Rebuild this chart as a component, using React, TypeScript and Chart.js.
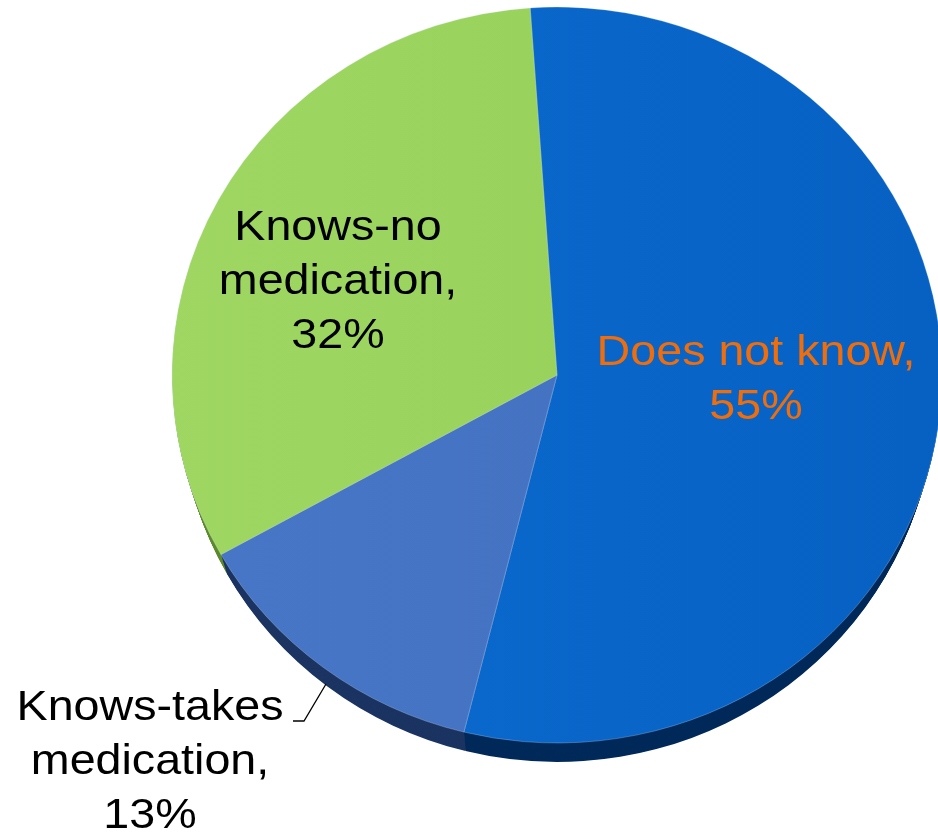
import React, { useEffect, useRef } from "react";
import { Chart, registerables } from "chart.js";

Chart.register(...registerables);

// ---- data ----
const categories = ["Does not know", "Knows-takes medication", "Knows-no medication"];
const values = [55, 13, 32];
const labelLines = [
  ["Does not know,", "55%"],
  ["Knows-takes", "medication,", "13%"],
  ["Knows-no", "medication,", "32%"],
];

// ---- styles ----
const topColors = [
  ["#0d6cd1", "#0660c2"],
  ["#4977c7", "#416fbe"],
  ["#9fd762", "#92ce56"],
];
const sideColors = ["#012a5a", "#1b3462", "#5d8a2d"];
const labelColors = ["#ef6d0b", "#000000", "#000000"];

// ---- layout ----
const SCREEN = { cx: 557, cy: 375, rx: 385, ry: 368, depth: 20, shrinkX: 7, shrinkY: 1 };
const LABEL_POS = [
  { x: 756, y: 365 },
  { x: 150, y: 720 },
  { x: 338, y: 240 },
];
const FONT_SIZE = 42;
const LINE_H = 54;
const TEXT_SX = 1.11;

function applyTransform(ctx: CanvasRenderingContext2D, arc: any, dy: number, rx: number, ry: number) {
  ctx.translate(SCREEN.cx, SCREEN.cy + dy);
  ctx.scale(rx / arc.outerRadius, ry / arc.outerRadius);
  ctx.translate(-arc.x, -arc.y);
}

const pie3d = {
  id: "pie3d",
  beforeDatasetsDraw(chart: any) {
    const ctx: CanvasRenderingContext2D = chart.ctx;
    const arcs = chart.getDatasetMeta(0).data;
    const a0 = arcs[0];
    for (let d = SCREEN.depth; d >= 1; d -= 1) {
      const t = d / SCREEN.depth;
      ctx.save();
      applyTransform(ctx, a0, d, SCREEN.rx - SCREEN.shrinkX * t, SCREEN.ry - SCREEN.shrinkY * t);
      arcs.forEach((arc: any, i: number) => {
        ctx.beginPath();
        ctx.moveTo(arc.x, arc.y);
        ctx.arc(arc.x, arc.y, arc.outerRadius, arc.startAngle, arc.endAngle);
        ctx.closePath();
        ctx.fillStyle = sideColors[i];
        ctx.fill();
      });
      ctx.restore();
    }
    ctx.save();
    applyTransform(ctx, a0, 0, SCREEN.rx, SCREEN.ry);
  },
  afterDatasetsDraw(chart: any) {
    chart.ctx.restore();
  },
  afterDraw(chart: any) {
    const ctx: CanvasRenderingContext2D = chart.ctx;
    ctx.save();
    ctx.font = `${FONT_SIZE}px "Liberation Sans", Arial, sans-serif`;
    ctx.textAlign = "center";
    ctx.textBaseline = "alphabetic";
    labelLines.forEach((lines, i) => {
      const pos = LABEL_POS[i];
      lines.forEach((ln, j) => {
        ctx.save();
        ctx.translate(pos.x, pos.y + j * LINE_H);
        ctx.scale(TEXT_SX, 1);
        ctx.fillStyle = labelColors[i];
        ctx.fillText(ln, 0, 0);
        ctx.restore();
      });
    });
    // leader line for the small slice label
    ctx.strokeStyle = "#000";
    ctx.lineWidth = 1.3;
    ctx.beginPath();
    ctx.moveTo(293, 721);
    ctx.lineTo(304, 721);
    ctx.lineTo(326, 684);
    ctx.stroke();
    ctx.restore();
  },
};

export default function App() {
  const ref = useRef<HTMLCanvasElement>(null);
  useEffect(() => {
    const chart = new Chart(ref.current as HTMLCanvasElement, {
      type: "pie",
      data: {
        labels: categories,
        datasets: [
          {
            data: values,
            backgroundColor: (c: any) => {
              const i = c.dataIndex ?? 0;
              const area = c.chart.chartArea;
              if (!area) return topColors[i][0];
              const g = c.chart.ctx.createLinearGradient(area.left, 0, area.right, 0);
              g.addColorStop(0, topColors[i][0]);
              g.addColorStop(1, topColors[i][1]);
              return g;
            },
            borderWidth: 1,
            borderColor: "rgba(220,235,255,0.3)",
            clip: false,
          } as any,
        ],
      },
      options: {
        responsive: false,
        animation: false,
        rotation: -4,
        events: [],
        layout: { padding: 0 },
        plugins: {
          legend: { display: false },
          tooltip: { enabled: false },
        },
      },
      plugins: [pie3d as any],
    });
    return () => chart.destroy();
  }, []);
  return (
    <div style={{ position: "absolute", left: 0, top: 0, width: 938, height: 837, background: "#fff", overflow: "hidden" }}>
      <canvas ref={ref} width={938} height={837} style={{ display: "block" }} />
    </div>
  );
}
